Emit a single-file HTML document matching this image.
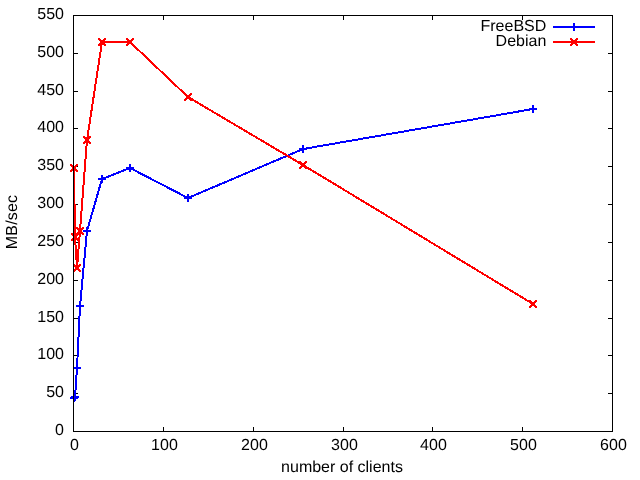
<!DOCTYPE html>
<html><head><meta charset="utf-8"><title>plot</title>
<style>
html,body{margin:0;padding:0;background:#fff;}
svg{display:block;}
text{font-family:"Liberation Sans",sans-serif;font-size:16px;fill:#000;text-rendering:geometricPrecision;}
</style></head><body>
<svg width="640" height="480" viewBox="0 0 640 480">
<rect x="0" y="0" width="640" height="480" fill="#fff"/>

<g stroke="#000" stroke-width="1" shape-rendering="crispEdges" fill="none">
<line x1="73" y1="431.5" x2="78" y2="431.5"/>
<line x1="613" y1="431.5" x2="608" y2="431.5"/>
<line x1="73" y1="393.5" x2="78" y2="393.5"/>
<line x1="613" y1="393.5" x2="608" y2="393.5"/>
<line x1="73" y1="355.5" x2="78" y2="355.5"/>
<line x1="613" y1="355.5" x2="608" y2="355.5"/>
<line x1="73" y1="318.5" x2="78" y2="318.5"/>
<line x1="613" y1="318.5" x2="608" y2="318.5"/>
<line x1="73" y1="280.5" x2="78" y2="280.5"/>
<line x1="613" y1="280.5" x2="608" y2="280.5"/>
<line x1="73" y1="242.5" x2="78" y2="242.5"/>
<line x1="613" y1="242.5" x2="608" y2="242.5"/>
<line x1="73" y1="204.5" x2="78" y2="204.5"/>
<line x1="613" y1="204.5" x2="608" y2="204.5"/>
<line x1="73" y1="166.5" x2="78" y2="166.5"/>
<line x1="613" y1="166.5" x2="608" y2="166.5"/>
<line x1="73" y1="128.5" x2="78" y2="128.5"/>
<line x1="613" y1="128.5" x2="608" y2="128.5"/>
<line x1="73" y1="91.5" x2="78" y2="91.5"/>
<line x1="613" y1="91.5" x2="608" y2="91.5"/>
<line x1="73" y1="53.5" x2="78" y2="53.5"/>
<line x1="613" y1="53.5" x2="608" y2="53.5"/>
<line x1="73" y1="15.5" x2="78" y2="15.5"/>
<line x1="613" y1="15.5" x2="608" y2="15.5"/>
<line x1="73.5" y1="432" x2="73.5" y2="427"/>
<line x1="73.5" y1="15" x2="73.5" y2="20"/>
<line x1="163.5" y1="432" x2="163.5" y2="427"/>
<line x1="163.5" y1="15" x2="163.5" y2="20"/>
<line x1="253.5" y1="432" x2="253.5" y2="427"/>
<line x1="253.5" y1="15" x2="253.5" y2="20"/>
<line x1="343.5" y1="432" x2="343.5" y2="427"/>
<line x1="343.5" y1="15" x2="343.5" y2="20"/>
<line x1="432.5" y1="432" x2="432.5" y2="427"/>
<line x1="432.5" y1="15" x2="432.5" y2="20"/>
<line x1="522.5" y1="432" x2="522.5" y2="427"/>
<line x1="522.5" y1="15" x2="522.5" y2="20"/>
<line x1="612.5" y1="432" x2="612.5" y2="427"/>
<line x1="612.5" y1="15" x2="612.5" y2="20"/>
</g>
<g text-anchor="end">
<text transform="translate(64,435)">0</text>
<text transform="translate(64,397)">50</text>
<text transform="translate(64,359)">100</text>
<text transform="translate(64,322)">150</text>
<text transform="translate(64,284)">200</text>
<text transform="translate(64,246)">250</text>
<text transform="translate(64,208)">300</text>
<text transform="translate(64,170)">350</text>
<text transform="translate(64,132)">400</text>
<text transform="translate(64,95)">450</text>
<text transform="translate(64,57)">500</text>
<text transform="translate(64,19)">550</text>
</g>
<g text-anchor="middle">
<text transform="translate(74.6,450)" letter-spacing="0.1">0</text>
<text transform="translate(164.6,450)" letter-spacing="0.1">100</text>
<text transform="translate(254.6,450)" letter-spacing="0.1">200</text>
<text transform="translate(344.6,450)" letter-spacing="0.1">300</text>
<text transform="translate(433.6,450)" letter-spacing="0.1">400</text>
<text transform="translate(523.6,450)" letter-spacing="0.1">500</text>
<text transform="translate(613.6,450)" letter-spacing="0.1">600</text>
<text transform="translate(342,472)">number of clients</text>
<text transform="translate(17,222) rotate(-90)" letter-spacing="0.2">MB/sec</text>
</g>
<g fill="none" stroke-width="2" shape-rendering="crispEdges">
<polyline points="74,398 75,397 77,368 80,306 87,231 102,179 130,168 188,198 303,149 533,109" stroke="#0000ff"/>
<path d="M70 398H78M74 394V402" stroke="#0000ff"/>
<path d="M71 397H79M75 393V401" stroke="#0000ff"/>
<path d="M73 368H81M77 364V372" stroke="#0000ff"/>
<path d="M76 306H84M80 302V310" stroke="#0000ff"/>
<path d="M83 231H91M87 227V235" stroke="#0000ff"/>
<path d="M98 179H106M102 175V183" stroke="#0000ff"/>
<path d="M126 168H134M130 164V172" stroke="#0000ff"/>
<path d="M184 198H192M188 194V202" stroke="#0000ff"/>
<path d="M299 149H307M303 145V153" stroke="#0000ff"/>
<path d="M529 109H537M533 105V113" stroke="#0000ff"/>
<line x1="553" y1="27" x2="595" y2="27" stroke="#0000ff"/>
<path d="M570 27H578M574 23V31" stroke="#0000ff"/>
<polyline points="74,168 75,237 77,268 80,231 87,140 102,42 130,42 188,97 303,165 533,304" stroke="#ff0000"/>
<path d="M70 164h2v2h-2zM76 164h2v2h-2zM71 165h2v2h-2zM75 165h2v2h-2zM72 166h2v2h-2zM74 166h2v2h-2zM73 167h2v2h-2zM73 167h2v2h-2zM74 168h2v2h-2zM72 168h2v2h-2zM75 169h2v2h-2zM71 169h2v2h-2zM76 170h2v2h-2zM70 170h2v2h-2z" fill="#ff0000" stroke="none"/>
<path d="M71 233h2v2h-2zM77 233h2v2h-2zM72 234h2v2h-2zM76 234h2v2h-2zM73 235h2v2h-2zM75 235h2v2h-2zM74 236h2v2h-2zM74 236h2v2h-2zM75 237h2v2h-2zM73 237h2v2h-2zM76 238h2v2h-2zM72 238h2v2h-2zM77 239h2v2h-2zM71 239h2v2h-2z" fill="#ff0000" stroke="none"/>
<path d="M73 264h2v2h-2zM79 264h2v2h-2zM74 265h2v2h-2zM78 265h2v2h-2zM75 266h2v2h-2zM77 266h2v2h-2zM76 267h2v2h-2zM76 267h2v2h-2zM77 268h2v2h-2zM75 268h2v2h-2zM78 269h2v2h-2zM74 269h2v2h-2zM79 270h2v2h-2zM73 270h2v2h-2z" fill="#ff0000" stroke="none"/>
<path d="M76 227h2v2h-2zM82 227h2v2h-2zM77 228h2v2h-2zM81 228h2v2h-2zM78 229h2v2h-2zM80 229h2v2h-2zM79 230h2v2h-2zM79 230h2v2h-2zM80 231h2v2h-2zM78 231h2v2h-2zM81 232h2v2h-2zM77 232h2v2h-2zM82 233h2v2h-2zM76 233h2v2h-2z" fill="#ff0000" stroke="none"/>
<path d="M83 136h2v2h-2zM89 136h2v2h-2zM84 137h2v2h-2zM88 137h2v2h-2zM85 138h2v2h-2zM87 138h2v2h-2zM86 139h2v2h-2zM86 139h2v2h-2zM87 140h2v2h-2zM85 140h2v2h-2zM88 141h2v2h-2zM84 141h2v2h-2zM89 142h2v2h-2zM83 142h2v2h-2z" fill="#ff0000" stroke="none"/>
<path d="M98 38h2v2h-2zM104 38h2v2h-2zM99 39h2v2h-2zM103 39h2v2h-2zM100 40h2v2h-2zM102 40h2v2h-2zM101 41h2v2h-2zM101 41h2v2h-2zM102 42h2v2h-2zM100 42h2v2h-2zM103 43h2v2h-2zM99 43h2v2h-2zM104 44h2v2h-2zM98 44h2v2h-2z" fill="#ff0000" stroke="none"/>
<path d="M126 38h2v2h-2zM132 38h2v2h-2zM127 39h2v2h-2zM131 39h2v2h-2zM128 40h2v2h-2zM130 40h2v2h-2zM129 41h2v2h-2zM129 41h2v2h-2zM130 42h2v2h-2zM128 42h2v2h-2zM131 43h2v2h-2zM127 43h2v2h-2zM132 44h2v2h-2zM126 44h2v2h-2z" fill="#ff0000" stroke="none"/>
<path d="M184 93h2v2h-2zM190 93h2v2h-2zM185 94h2v2h-2zM189 94h2v2h-2zM186 95h2v2h-2zM188 95h2v2h-2zM187 96h2v2h-2zM187 96h2v2h-2zM188 97h2v2h-2zM186 97h2v2h-2zM189 98h2v2h-2zM185 98h2v2h-2zM190 99h2v2h-2zM184 99h2v2h-2z" fill="#ff0000" stroke="none"/>
<path d="M299 161h2v2h-2zM305 161h2v2h-2zM300 162h2v2h-2zM304 162h2v2h-2zM301 163h2v2h-2zM303 163h2v2h-2zM302 164h2v2h-2zM302 164h2v2h-2zM303 165h2v2h-2zM301 165h2v2h-2zM304 166h2v2h-2zM300 166h2v2h-2zM305 167h2v2h-2zM299 167h2v2h-2z" fill="#ff0000" stroke="none"/>
<path d="M529 300h2v2h-2zM535 300h2v2h-2zM530 301h2v2h-2zM534 301h2v2h-2zM531 302h2v2h-2zM533 302h2v2h-2zM532 303h2v2h-2zM532 303h2v2h-2zM533 304h2v2h-2zM531 304h2v2h-2zM534 305h2v2h-2zM530 305h2v2h-2zM535 306h2v2h-2zM529 306h2v2h-2z" fill="#ff0000" stroke="none"/>
<line x1="553" y1="42" x2="595" y2="42" stroke="#ff0000"/>
<path d="M570 38h2v2h-2zM576 38h2v2h-2zM571 39h2v2h-2zM575 39h2v2h-2zM572 40h2v2h-2zM574 40h2v2h-2zM573 41h2v2h-2zM573 41h2v2h-2zM574 42h2v2h-2zM572 42h2v2h-2zM575 43h2v2h-2zM571 43h2v2h-2zM576 44h2v2h-2zM570 44h2v2h-2z" fill="#ff0000" stroke="none"/>
</g>
<g text-anchor="end"><text transform="translate(546.3,31)">FreeBSD</text><text transform="translate(546.3,46)">Debian</text></g>
<rect x="73.5" y="15.5" width="539" height="416" fill="none" stroke="#000" stroke-width="1" shape-rendering="crispEdges"/>
</svg></body></html>
